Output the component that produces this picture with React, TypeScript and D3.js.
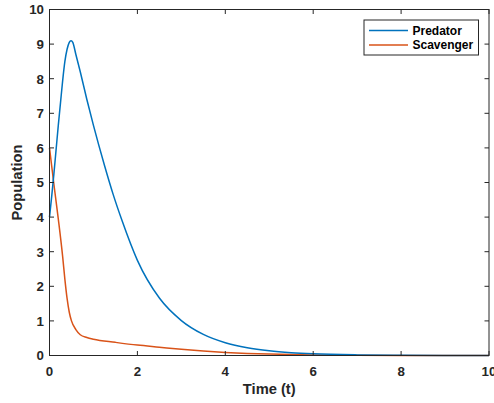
import React from "react";
import * as d3 from "d3";

const predatorT = [0, 0.05, 0.1, 0.15, 0.2, 0.25, 0.3, 0.35, 0.4, 0.45, 0.49, 0.53, 0.6, 0.7, 0.85, 1.0, 1.25, 1.45, 1.65, 2.0, 2.5, 3.0, 3.5, 4.0, 4.5, 5.0, 5.5, 6.0, 7.0, 8.0, 9.0, 10.0];
const predatorV = [4.0, 4.6, 5.25, 5.95, 6.65, 7.3, 7.95, 8.5, 8.85, 9.05, 9.1, 9.05, 8.7, 8.2, 7.4, 6.65, 5.5, 4.65, 3.9, 2.75, 1.66, 1.01, 0.61, 0.37, 0.225, 0.137, 0.083, 0.05, 0.018, 0.007, 0.0025, 0.001];

const scavengerT = [0, 0.1, 0.2, 0.3, 0.35, 0.4, 0.45, 0.5, 0.6, 0.7, 0.85, 1.0, 1.5, 2.0, 2.5, 3.0, 3.5, 4.0, 4.5, 5.0, 6.0, 7.0, 8.0, 10.0];
const scavengerV = [6.0, 4.95, 3.95, 2.85, 2.2, 1.65, 1.25, 1.0, 0.75, 0.6, 0.52, 0.47, 0.38, 0.3, 0.24, 0.18, 0.13, 0.09, 0.06, 0.04, 0.015, 0.005, 0.002, 0.0];

const xTicks = [0, 2, 4, 6, 8, 10];
const yTicks = [0, 1, 2, 3, 4, 5, 6, 7, 8, 9, 10];
const seriesNames = ["Predator", "Scavenger"];
const seriesColors = ["#0072BD", "#D95319"];

export default function App() {
  const W = 494, H = 403;
  const left = 49.5, right = 489, top = 9.5, bottom = 355.5;
  const x = d3.scaleLinear().domain([0, 10]).range([left, right]);
  const y = d3.scaleLinear().domain([0, 10]).range([bottom, top]);
  const line = d3
    .line<[number, number]>()
    .x((d) => x(d[0]))
    .y((d) => y(d[1]))
    .curve(d3.curveMonotoneX);
  const predData = predatorT.map((t, i) => [t, predatorV[i]] as [number, number]);
  const scavData = scavengerT.map((t, i) => [t, scavengerV[i]] as [number, number]);
  const axisColor = "#262626";
  const font = "'Liberation Sans', Arial, Helvetica, sans-serif";
  const tickLen = 4.5;
  return (
    <svg width={W} height={H} style={{ position: "absolute", left: 0, top: 0 }} fontFamily={font}>
      <rect x={0} y={0} width={W} height={H} fill="#fff" />
      <path d={line(scavData) || ""} fill="none" stroke={seriesColors[1]} strokeWidth={1.5} />
      <path d={line(predData) || ""} fill="none" stroke={seriesColors[0]} strokeWidth={1.5} />
      <rect x={left} y={top} width={right - left} height={bottom - top} fill="none" stroke={axisColor} strokeWidth={1} />
      {xTicks.map((t) => (
        <g key={"x" + t}>
          <line x1={x(t)} x2={x(t)} y1={bottom} y2={bottom - tickLen} stroke={axisColor} />
          <line x1={x(t)} x2={x(t)} y1={top} y2={top + tickLen} stroke={axisColor} />
          <text x={x(t)} y={376} textAnchor="middle" fontSize={13.3} fontWeight="bold" fill={axisColor}>
            {t}
          </text>
        </g>
      ))}
      {yTicks.map((t) => (
        <g key={"y" + t}>
          <line x1={left} x2={left + tickLen} y1={y(t)} y2={y(t)} stroke={axisColor} />
          <line x1={right} x2={right - tickLen} y1={y(t)} y2={y(t)} stroke={axisColor} />
          <text x={44} y={y(t) + 4.8} textAnchor="end" fontSize={13.3} fontWeight="bold" fill={axisColor}>
            {t}
          </text>
        </g>
      ))}
      <text x={(left + right) / 2} y={394} textAnchor="middle" fontSize={14.7} fontWeight="bold" fill={axisColor}>
        Time (t)
      </text>
      <text
        transform={`translate(22, ${(top + bottom) / 2}) rotate(-90)`}
        textAnchor="middle"
        fontSize={14.7}
        fontWeight="bold"
        fill={axisColor}
      >
        Population
      </text>
      <g>
        <rect x={364} y={20} width={114.5} height={35} fill="#fff" stroke={axisColor} strokeWidth={1} />
        {seriesNames.map((n, i) => (
          <g key={n}>
            <line x1={369} x2={408} y1={30.5 + i * 14.5} y2={30.5 + i * 14.5} stroke={seriesColors[i]} strokeWidth={1.5} />
            <text x={412.5} y={30.5 + i * 14.5 + 4.3} fontSize={12} fontWeight="bold" fill="#000">
              {n}
            </text>
          </g>
        ))}
      </g>
    </svg>
  );
}
